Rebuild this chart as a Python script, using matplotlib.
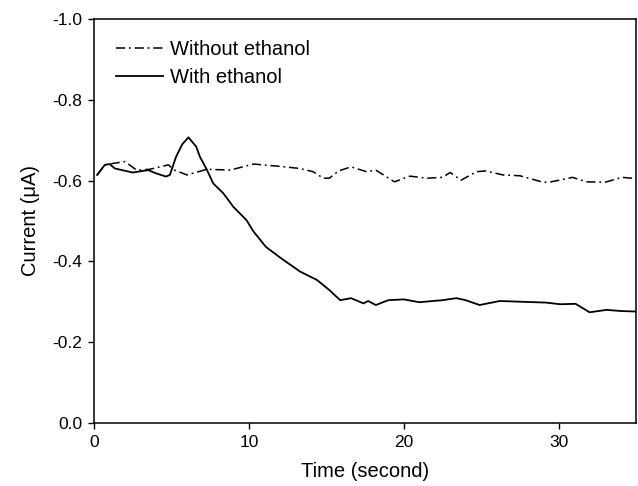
import matplotlib
matplotlib.use("Agg")
import matplotlib.pyplot as plt

plt.rcParams['font.family'] = ['Liberation Sans', 'DejaVu Sans']

t_without = [0.2, 0.7, 1.3, 2.0, 2.75, 3.6, 4.8, 5.2, 6.0, 7.3, 8.8, 10.3, 11.8, 13.3, 14.15,
             14.8, 15.2, 15.8, 16.6, 17.6, 18.2, 19.4, 20.4, 21.5, 22.5, 23.0, 23.7, 24.7,
             25.3, 26.4, 27.5, 29.0, 29.4, 30.9, 31.8, 33.0, 34.1, 35.0]
i_without = [-0.614, -0.639, -0.643, -0.647, -0.626, -0.628, -0.639, -0.626, -0.614, -0.628,
             -0.626, -0.641, -0.636, -0.630, -0.622, -0.606, -0.606, -0.624, -0.634, -0.622,
             -0.626, -0.597, -0.611, -0.606, -0.608, -0.620, -0.601, -0.622, -0.624, -0.614,
             -0.612, -0.596, -0.596, -0.608, -0.597, -0.596, -0.608, -0.605]

t_with = [0.2, 0.7, 1.0, 1.35, 2.5, 3.5, 4.0, 4.65, 4.9, 5.3, 5.7, 6.1, 6.6, 6.84, 7.3, 7.7,
          8.34, 9.0, 9.85, 10.3, 11.1, 12.0, 13.3, 14.4, 15.2, 15.9, 16.6, 17.4, 17.7, 18.2,
          19.0, 20.0, 21.0, 22.5, 23.4, 24.0, 24.9, 26.2, 27.7, 29.2, 30.1, 31.1, 32.0, 33.1,
          34.1, 35.0]
i_with = [-0.614, -0.639, -0.641, -0.630, -0.620, -0.626, -0.618, -0.610, -0.614, -0.659,
          -0.690, -0.707, -0.684, -0.659, -0.626, -0.593, -0.569, -0.535, -0.502, -0.474,
          -0.436, -0.410, -0.375, -0.354, -0.329, -0.304, -0.309, -0.296, -0.302, -0.292,
          -0.304, -0.306, -0.299, -0.304, -0.309, -0.304, -0.292, -0.302, -0.300, -0.298,
          -0.294, -0.295, -0.274, -0.280, -0.277, -0.276]

x_ticks = [0, 10, 20, 30]
y_ticks = [0.0, -0.2, -0.4, -0.6, -0.8, -1.0]

fig = plt.figure(figsize=(6.38, 4.86), dpi=100)
ax = fig.add_axes([94/638, 63/486, 542/638, 404/486])

ax.plot(t_without, i_without, color='black', lw=1.1, linestyle=(0, (6, 2.5, 1.2, 2.5)),
        label='Without ethanol')
ax.plot(t_with, i_with, color='black', lw=1.3, linestyle='-', label='With ethanol')

ax.set_xlim(0, 35)
ax.set_ylim(0.0, -1.0)
ax.set_xticks(x_ticks)
ax.set_yticks(y_ticks)
ax.set_yticklabels([f"{v:.1f}" for v in y_ticks])
ax.tick_params(direction='out', length=4.5, width=1, labelsize=12.5, colors='black',
               top=False, right=False, pad=4)
for s in ax.spines.values():
    s.set_linewidth(1.1)

ax.set_xlabel('Time (second)', fontsize=14.5, labelpad=9)
ax.set_ylabel('Current (\u03bcA)', fontsize=14.5, labelpad=9)

leg = ax.legend(loc='upper left', frameon=False, fontsize=14.5, handlelength=2.35,
                handletextpad=0.35, labelspacing=0.45, borderaxespad=0.0, borderpad=0.0,
                bbox_to_anchor=(22/542, 1 - 21/404))

fig.savefig('out.png', dpi=100)
